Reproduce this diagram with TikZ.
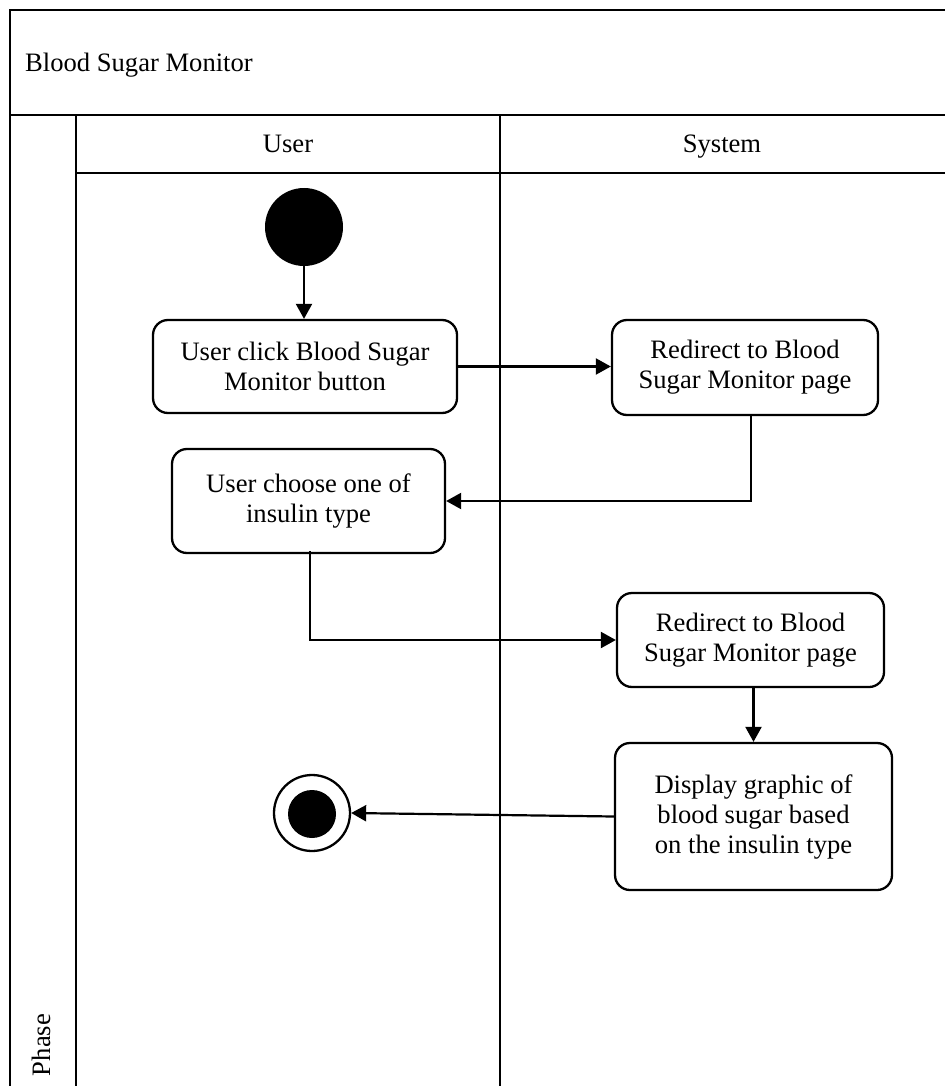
\documentclass[tikz,border=0pt]{standalone}
\usepackage{fontspec}
\setmainfont{Liberation Serif}
\usetikzlibrary{arrows.meta}
\begin{document}
\begin{tikzpicture}[x=1pt,y=-1pt,
  frame/.style={line width=2.6pt},
  action/.style={draw,line width=2.3pt,rounded corners=15pt,align=center,inner sep=0pt,
    font=\fontsize{26.6}{30}\selectfont},
  flow/.style={line width=2.2pt,-{Triangle[length=15pt,width=16pt]}},
  label/.style={font=\fontsize{26.6}{30}\selectfont,inner sep=0pt}]
\useasboundingbox (0,0) rectangle (945,1086);

% swimlane frame
\draw[frame] (10,1086) -- (10,10) -- (945,10);
\draw[frame] (10,115) -- (945,115);
\draw[frame] (76,115) -- (76,1086);
\draw[frame] (76,173) -- (945,173);
\draw[frame] (500,115) -- (500,1086);

% titles
\node[label,anchor=base west] (title) at (25,72) {Blood Sugar Monitor};
\node[label,anchor=base] (userlane) at (288,153) {User};
\node[label,anchor=base] (syslane) at (722,153) {System};
\node[label,rotate=90] (phase) at (41,1045) {Phase};

% start and end
\node[circle,fill=black,minimum size=78pt,inner sep=0pt] (start) at (304,227) {};
\node[circle,draw,line width=2.3pt,minimum size=76pt,inner sep=0pt] (end) at (312,813) {};
\node[circle,fill=black,minimum size=48pt,inner sep=0pt] (endcore) at (312,814) {};

% actions
\node[action,minimum width=304pt,minimum height=93pt] (click) at (305,366.5)
  {User click Blood Sugar\\Monitor button};
\node[action,minimum width=266pt,minimum height=95pt] (redir1) at (745,367.5)
  {Redirect to Blood\\Sugar Monitor page};
\node[action,minimum width=273pt,minimum height=104pt] (choose) at (308.5,501)
  {User choose one of\\insulin type};
\node[action,minimum width=267pt,minimum height=94pt] (redir2) at (750.5,640)
  {Redirect to Blood\\Sugar Monitor page};
\node[action,minimum width=277pt,minimum height=147pt] (display) at (753.5,816.5)
  {Display graphic of\\blood sugar based\\on the insulin type};

% transitions
\draw[flow] (start.south) -- (start.south |- click.north);
\draw[flow] (click.east) -- (redir1.west |- click.east);
\draw[flow] ([xshift=6pt]redir1.south) |- (choose.east);
\draw[flow] ([xshift=1.5pt,yshift=3pt]choose.south) |- (redir2.west);
\draw[flow] (display.north |- redir2.south) -- (display.north);
\draw[flow] (display.west) -- (end.east);
\end{tikzpicture}
\end{document}
